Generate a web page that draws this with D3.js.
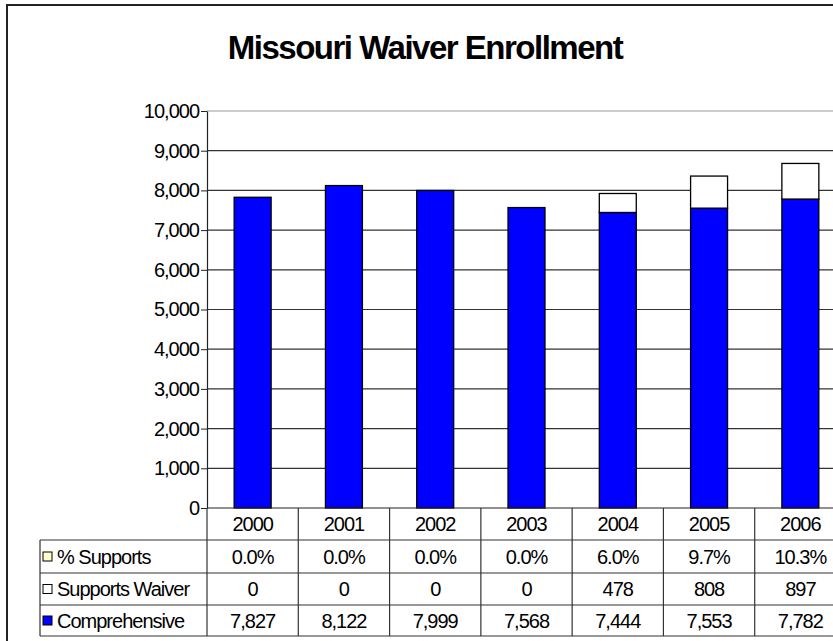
<!DOCTYPE html>
<html>
<head>
<meta charset="utf-8">
<script src="https://cdn.jsdelivr.net/npm/d3@7"></script>
<style>
  html, body { margin: 0; padding: 0; background: #fff; }
  svg { display: block; }
  text { font-family: "Liberation Sans", Arial, sans-serif; fill: #000; }
</style>
</head>
<body>
<svg id="chart" width="833" height="641"></svg>
<script>
// Enrollment by year
const years = ["2000", "2001", "2002", "2003", "2004", "2005", "2006"];
const comprehensive = [7827, 8122, 7999, 7568, 7444, 7553, 7782];
const supportsWaiver = [0, 0, 0, 0, 478, 808, 897];
const pctSupports = ["0.0%", "0.0%", "0.0%", "0.0%", "6.0%", "9.7%", "10.3%"];
const yTicks = [0, 1000, 2000, 3000, 4000, 5000, 6000, 7000, 8000, 9000, 10000];

const FS = 20, LS = -1;
const svg = d3.select("#chart");

// outer frame
svg.append("rect")
  .attr("x", 7).attr("y", 5).attr("width", 840).attr("height", 650)
  .attr("fill", "#fff").attr("stroke", "#222").attr("stroke-width", 2);

// title
svg.append("text")
  .attr("x", 425).attr("y", 59)
  .attr("text-anchor", "middle")
  .attr("font-size", 33).attr("font-weight", "bold")
  .attr("letter-spacing", -1.5)
  .text("Missouri Waiver Enrollment");

const plotLeft = 207, plotRight = 846;
const y = d3.scaleLinear().domain([0, 10000]).range([508, 111]);
const x = d3.scaleBand().domain(years).range([plotLeft, plotRight]).padding(0);
const barW = x.bandwidth() * 0.405;

// gridlines
svg.append("g").selectAll("line").data(yTicks.filter(d => d > 0)).join("line")
  .attr("x1", plotLeft).attr("x2", plotRight)
  .attr("y1", d => y(d)).attr("y2", d => y(d))
  .attr("stroke", d => d === 10000 ? "#999" : "#333").attr("stroke-width", 1.2);

// y axis
const yAxis = d3.axisLeft(y).tickValues(yTicks).tickSize(6).tickSizeOuter(0)
  .tickFormat(d3.format(","));
const gy = svg.append("g").attr("transform", `translate(${plotLeft},0)`).call(yAxis);
gy.select(".domain").attr("stroke", "#222").attr("stroke-width", 1.2);
gy.selectAll(".tick line").attr("stroke", "#222");
gy.selectAll(".tick text")
  .attr("font-family", "'Liberation Sans', Arial, sans-serif")
  .attr("font-size", FS).attr("letter-spacing", LS).attr("fill", "#000").attr("x", -8);

// stacked bars
const bars = svg.append("g");
bars.selectAll("rect.comp").data(years).join("rect")
  .attr("class", "comp")
  .attr("x", d => x(d) + (x.bandwidth() - barW) / 2)
  .attr("width", barW)
  .attr("y", (d, i) => y(comprehensive[i]))
  .attr("height", (d, i) => y(0) - y(comprehensive[i]))
  .attr("fill", "#0000ff").attr("stroke", "#000").attr("stroke-width", 1.3);
bars.selectAll("rect.sup").data(years.filter((d, i) => supportsWaiver[i] > 0)).join("rect")
  .attr("class", "sup")
  .attr("x", d => x(d) + (x.bandwidth() - barW) / 2)
  .attr("width", barW)
  .attr("y", d => { const i = years.indexOf(d); return y(comprehensive[i] + supportsWaiver[i]); })
  .attr("height", d => { const i = years.indexOf(d); return y(comprehensive[i]) - y(comprehensive[i] + supportsWaiver[i]); })
  .attr("fill", "#fff").attr("stroke", "#000").attr("stroke-width", 1.3);

// x axis baseline
svg.append("line").attr("x1", plotLeft).attr("x2", plotRight)
  .attr("y1", y(0)).attr("y2", y(0)).attr("stroke", "#222").attr("stroke-width", 1.2);

// data table
const tableLeft = 40;
const rowEdges = [508, 540, 573, 605, 636];
const rows = [
  { label: "% Supports", key: "#ffffcc", values: pctSupports },
  { label: "Supports Waiver", key: "#ffffff", values: supportsWaiver.map(d3.format(",")) },
  { label: "Comprehensive", key: "#0000ff", values: comprehensive.map(d3.format(",")) }
];
const tbl = svg.append("g");
// horizontal rules
rowEdges.slice(1).forEach(yy => {
  tbl.append("line").attr("x1", tableLeft).attr("x2", plotRight)
    .attr("y1", yy).attr("y2", yy).attr("stroke", "#333").attr("stroke-width", 1.2);
});
// vertical rules
years.forEach(d => {
  tbl.append("line").attr("x1", x(d)).attr("x2", x(d))
    .attr("y1", rowEdges[0]).attr("y2", rowEdges[4]).attr("stroke", "#333").attr("stroke-width", 1.2);
});
tbl.append("line").attr("x1", tableLeft).attr("x2", tableLeft)
  .attr("y1", rowEdges[1]).attr("y2", rowEdges[4]).attr("stroke", "#333").attr("stroke-width", 1.2);

// header row (years)
tbl.selectAll("text.yr").data(years).join("text")
  .attr("class", "yr")
  .attr("x", d => x(d) + x.bandwidth() / 2)
  .attr("y", (rowEdges[0] + rowEdges[1]) / 2 + 7)
  .attr("text-anchor", "middle").attr("font-size", FS).attr("letter-spacing", LS)
  .text(d => d);

rows.forEach((r, ri) => {
  const cy = (rowEdges[ri + 1] + rowEdges[ri + 2]) / 2;
  tbl.append("rect").attr("x", 43).attr("y", cy - 4.5).attr("width", 9).attr("height", 9)
    .attr("fill", r.key).attr("stroke", "#000").attr("stroke-width", 1);
  tbl.append("text").attr("x", 57).attr("y", cy + 7)
    .attr("font-size", FS).attr("letter-spacing", LS)
    .text(r.label);
  tbl.selectAll(null).data(r.values).join("text")
    .attr("x", (d, i) => x(years[i]) + x.bandwidth() / 2)
    .attr("y", cy + 7)
    .attr("text-anchor", "middle").attr("font-size", FS).attr("letter-spacing", LS)
    .text(d => d);
});
</script>
</body>
</html>
